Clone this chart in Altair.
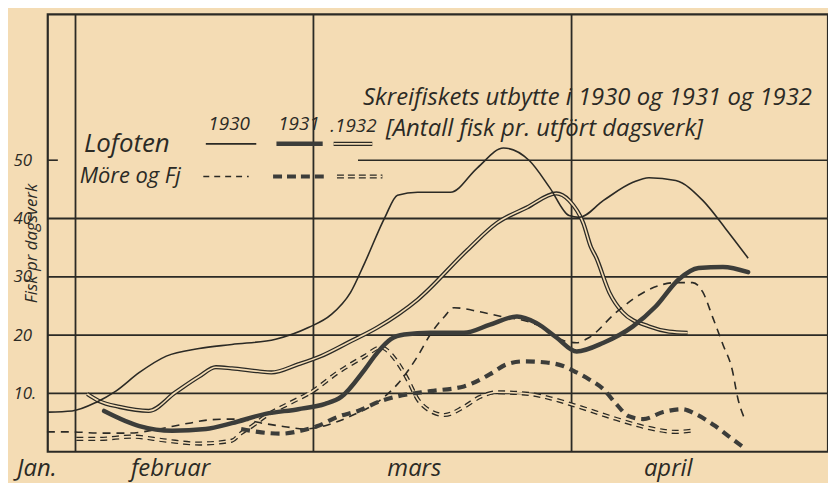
import altair as alt
import pandas as pd

BG = "#f4dcb4"
INK = "#2b2a25"
GREY = "#3c3d3a"
FONT = "Open Sans"

# x: days counted from 1 February; y: fish per day's work
lof30_x = [-3.3, -0.4, 2.5, 4.8, 7.6, 10.8, 14.7, 18.6, 23.8, 27.7, 30.4, 32.7, 34.4, 36.8, 38.3, 40.7,
           44.6, 47.8, 50.9, 54.0, 56.4, 58.7, 59.9, 62.8, 66.3, 68.2, 71.4, 74.6, 77.3, 80.0]
lof30_y = [6.8, 7.0, 8.5, 10.4, 13.6, 16.4, 17.7, 18.4, 19.3, 21.3, 23.5, 27.3, 32.4, 40.2, 44.0, 44.5,
           44.5, 48.7, 52.1, 49.9, 45.3, 40.5, 40.2, 43.1, 46.2, 47.0, 46.5, 43.1, 38.3, 33.2]

lof31_x = [3.4, 7.6, 11.5, 15.5, 18.6, 22.6, 26.5, 29.7, 31.6, 34.4, 35.9, 37.5, 39.1, 42.2, 46.2, 49.3,
           52.5, 54.8, 57.2, 59.6, 62.8, 66.3, 69.0, 71.7, 74.1, 77.0, 80.0]
lof31_y = [7.0, 4.4, 3.6, 3.9, 4.9, 6.5, 7.3, 8.2, 9.4, 14.1, 17.0, 19.3, 20.1, 20.4, 20.4, 21.8,
           23.2, 22.1, 19.6, 17.2, 18.7, 21.5, 24.9, 29.5, 31.5, 31.7, 30.8]

lof32_x = [1.4, 2.8, 5.2, 8.7, 11.9, 14.7, 16.7, 18.6, 21.7, 23.3, 26.5, 29.2, 32.4, 35.9, 40.7, 46.6,
           50.1, 53.7, 57.2, 58.7, 60.4, 61.3, 61.9, 63.5, 65.1, 68.2, 70.6, 72.8]
lof32_y = [9.9, 8.7, 7.7, 7.0, 10.2, 12.9, 14.5, 14.3, 13.8, 13.6, 15.0, 16.4, 18.7, 21.3, 26.1, 34.6,
           39.2, 41.9, 44.3, 43.1, 39.2, 35.1, 33.4, 27.3, 23.9, 21.5, 20.6, 20.4]

more30_x = [-3.4, -0.4, 2.8, 6.4, 9.9, 13.5, 16.2, 19.0, 22.6, 24.9, 27.3, 30.0, 33.0, 35.9, 38.3, 40.7,
            42.2, 43.9, 45.0, 48.1, 51.3, 52.8, 54.8, 57.2, 58.4, 59.6, 61.1, 64.3, 68.2, 71.4, 73.4,
            74.6, 75.8, 77.0, 78.1, 78.8, 79.7]
more30_y = [3.4, 3.4, 3.2, 3.2, 3.9, 4.9, 5.5, 5.6, 4.8, 4.3, 3.9, 4.6, 6.3, 8.5, 11.6, 16.4,
            20.1, 23.2, 24.7, 24.0, 23.0, 22.7, 21.8, 19.6, 18.9, 18.7, 19.6, 23.9, 27.8, 29.0, 29.0,
            27.4, 23.0, 18.4, 14.1, 9.0, 5.3]

more31_x = [19.7, 21.7, 24.5, 26.8, 28.8, 31.2, 33.6, 36.3, 38.3, 42.2, 46.2, 49.3, 51.3, 53.3, 56.0,
            58.0, 59.6, 61.1, 62.8, 64.3, 65.8, 67.5, 69.9, 72.2, 73.7, 76.1, 78.1, 79.7]
more31_y = [3.9, 3.4, 3.1, 3.6, 4.4, 6.0, 7.0, 8.7, 9.5, 10.4, 11.2, 13.3, 15.0, 15.5, 15.3,
            14.7, 13.6, 12.4, 10.7, 8.2, 6.1, 5.6, 6.8, 7.3, 6.5, 4.4, 2.2, 0.5]

more32_x = [0.1, 2.8, 6.7, 10.8, 14.7, 18.6, 19.7, 20.9, 22.6, 25.7, 28.0, 31.2, 34.4, 36.3, 38.3, 39.5,
            40.7, 42.2, 43.9, 46.2, 48.1, 50.1, 54.0, 56.9, 59.9, 63.5, 67.5, 71.4, 73.2]
more32_y = [2.2, 2.2, 2.6, 1.9, 1.4, 1.9, 3.2, 4.3, 6.1, 8.5, 10.2, 13.6, 16.4, 17.9, 15.3, 12.4,
            9.0, 7.0, 6.3, 7.7, 9.4, 10.2, 9.9, 9.0, 7.7, 6.0, 4.3, 3.4, 3.6]

# grid
x_min, x_max = -3.3, 89.5
h_grid = [10, 20, 30, 40]
v_grid = [0, 28.3, 59]
y_ticks = [10, 20, 30, 40, 50]

# manual legend samples (start day, end day, value)
leg_lof_x = [[15.5, 21.5], [23.9, 29.4], [30.7, 35.3]]
leg_lof_y = 52.8
leg_more_x = [[15.2, 20.6], [23.5, 29.7], [31.1, 36.5]]
leg_more_y = 47.2

# texts
left_texts = ["Skreifiskets utbytte i 1930 og 1931 og 1932", "[Antall fisk pr. utfört dagsverk]",
              "Lofoten", "Möre og Fj", "1930", "1931", ".1932"]
left_x = [34.2, 36.9, 1.0, 0.5, 15.8, 24.1, 30.3]
left_y = [60.6, 55.4, 52.8, 47.2, 56.2, 56.2, 55.9]
left_fs = [24, 24, 26, 22, 19, 19, 19]

months = ["Jan.", "februar", "mars", "april"]
month_x = [-4.6, 11.3, 40.3, 70.5]
month_y = -3.0

xs = alt.Scale(domain=[x_min, x_max], nice=False, zero=False)
ys = alt.Scale(domain=[0, 75], nice=False, zero=False)
yaxis = alt.Axis(values=y_ticks, grid=False, ticks=False, domain=False, labelPadding=35,
                 labelAlign="left",
                 labelFont=FONT, labelFontStyle="italic", labelFontSize=17, labelColor=INK,
                 labelExpr="datum.value == 10 ? '10.' : datum.label",
                 title="Fisk pr dagsverk", titleFont=FONT, titleFontStyle="italic",
                 titleFontWeight="normal", titleFontSize=17, titleColor=INK,
                 titleX=-7, titleY=230, titleAngle=270, titleAlign="center", titleBaseline="bottom")
X = alt.X("d:Q", scale=xs, axis=None)
Y = alt.Y("v:Q", scale=ys, axis=yaxis)


def series(xv, yv, width, color=INK, dash=None, cap="butt"):
    df = pd.DataFrame({"d": xv, "v": yv})
    kw = dict(color=color, strokeWidth=width, interpolate="monotone", strokeCap=cap)
    if dash:
        kw["strokeDash"] = dash
    return alt.Chart(df).mark_line(**kw).encode(x=X, y=Y)


# grid rules
hgrid = alt.Chart(pd.DataFrame({"v": h_grid})).mark_rule(color=INK, strokeWidth=1.8).encode(y=Y)
vgrid = alt.Chart(pd.DataFrame({"d": v_grid})).mark_rule(color=INK, strokeWidth=1.8).encode(x=X)
h50 = alt.Chart(pd.DataFrame({"d": [33.6, -3.3], "d2": [x_max, -2.1], "v": [50, 50]})).mark_rule(
    color=INK, strokeWidth=1.6).encode(x=X, x2="d2:Q", y=Y)


def legend_rule(pairs, yv, width, color=INK, dash=None):
    df = pd.DataFrame({"d": [p[0] for p in pairs], "d2": [p[1] for p in pairs], "v": [yv] * len(pairs)})
    kw = dict(color=color, strokeWidth=width)
    if dash:
        kw["strokeDash"] = dash
    return alt.Chart(df).mark_rule(**kw).encode(x=X, x2="d2:Q", y=Y)


layers = [
    hgrid, vgrid, h50,
    # double lines (drawn first, inner stroke in paper colour)
    series(lof32_x, lof32_y, 4.2),
    series(lof32_x, lof32_y, 1.6, color=BG),
    series(more32_x, more32_y, 4.2, dash=[7, 5]),
    series(more32_x, more32_y, 1.6, color=BG),
    series(lof30_x, lof30_y, 1.6),
    series(more30_x, more30_y, 1.6, dash=[8, 6]),
    series(more31_x, more31_y, 4.2, color=GREY, dash=[9, 6]),
    series(lof31_x, lof31_y, 4.5, color=GREY, cap="round"),
    # legend samples
    legend_rule([leg_lof_x[0]], leg_lof_y, 1.6),
    legend_rule([leg_lof_x[1]], leg_lof_y, 4.5, color=GREY),
    legend_rule([leg_lof_x[2]], leg_lof_y, 4.2),
    legend_rule([leg_lof_x[2]], leg_lof_y, 1.6, color=BG),
    legend_rule([leg_more_x[0]], leg_more_y, 1.6, dash=[6, 5]),
    legend_rule([leg_more_x[1]], leg_more_y, 4.2, color=GREY, dash=[9, 5]),
    legend_rule([leg_more_x[2]], leg_more_y, 4.2, dash=[7, 4]),
    legend_rule([leg_more_x[2]], leg_more_y, 1.6, color=BG),
]

tdf = pd.DataFrame({"d": left_x, "v": left_y, "t": left_texts, "fs": left_fs})
texts = alt.Chart(tdf).mark_text(align="left", baseline="middle", font=FONT, fontStyle="italic",
                                 color=INK).encode(x=X, y=Y, text="t:N",
                                                   size=alt.Size("fs:Q", scale=None, legend=None))
mdf = pd.DataFrame({"d": month_x, "v": [month_y] * len(months), "t": months})
mtexts = alt.Chart(mdf).mark_text(align="center", baseline="middle", font=FONT, fontStyle="italic",
                                  fontSize=24, color=INK).encode(x=X, y=Y, text="t:N")

chart = alt.layer(*layers, texts, mtexts).properties(
    width=785, height=440,
    padding={"left": 40, "top": 5, "right": 0, "bottom": 30},
    autosize=alt.AutoSizeParams(type="none"),
    background=BG,
).configure_view(stroke=INK, strokeWidth=2.2)

chart.save("out.html", embed_options={"renderer": "svg", "actions": False})
